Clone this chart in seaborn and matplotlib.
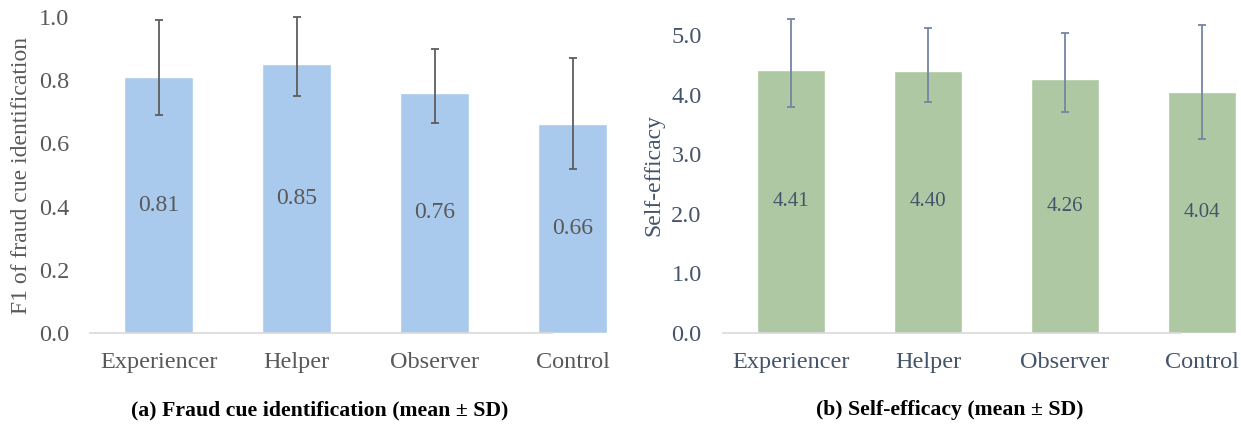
import matplotlib
matplotlib.use("Agg")
import matplotlib.pyplot as plt
import seaborn as sns
import pandas as pd
import numpy as np

# values
groups = ["Experiencer", "Helper", "Observer", "Control"]
f1_mean = [0.81, 0.85, 0.76, 0.66]
f1_upper = [0.99, 1.00, 0.90, 0.87]
f1_lower = [0.69, 0.75, 0.665, 0.52]
se_mean = [4.41, 4.40, 4.26, 4.04]
se_upper = [5.27, 5.12, 5.04, 5.17]
se_lower = [3.79, 3.88, 3.71, 3.25]

sns.set_style("white")
plt.rcParams["font.family"] = ["Liberation Serif", "DejaVu Serif"]

fig = plt.figure(figsize=(12.41, 4.30), dpi=100)
ax1 = fig.add_axes([90 / 1241, 97 / 430, 517 / 1241, 316 / 430])
ax2 = fig.add_axes([722.5 / 1241, 97 / 430, 513.5 / 1241, 316 / 430])

panels = [
    (ax1, f1_mean, f1_upper, f1_lower, "#A9CAEC", "#595959", "#5E5E5E",
     "F1 of fraud cue identification", (0, 1.0), np.arange(0, 1.01, 0.2), 17),
    (ax2, se_mean, se_upper, se_lower, "#AEC8A3", "#44546A", "#7586A2",
     "Self-efficacy", (0, 5.3), np.arange(0, 5.01, 1.0), 15),
]

for ax, mean, upper, lower, bar_col, txt_col, err_col, ylab, ylim, yticks, lab_size in panels:
    df = pd.DataFrame({"group": groups, "value": mean})
    sns.barplot(data=df, x="group", y="value", color=bar_col, width=0.5,
                errorbar=None, saturation=1, ax=ax)
    yerr = [np.array(mean) - np.array(lower), np.array(upper) - np.array(mean)]
    ax.errorbar(range(len(groups)), mean, yerr=yerr, fmt="none", ecolor=err_col,
                elinewidth=1.3, capsize=3, capthick=1.3, clip_on=False, zorder=5)
    ax.bar_label(ax.containers[0], labels=[f"{v:.2f}" for v in mean],
                 label_type="center", color=txt_col, fontsize=lab_size)
    ax.set_xlim(-0.5, 3.25)
    ax.set_ylim(*ylim)
    ax.set_yticks(yticks)
    ax.set_yticklabels([f"{t:.1f}" for t in yticks])
    ax.set_xlabel("")
    ax.set_ylabel(ylab, fontsize=17, color=txt_col, labelpad=5)
    ax.tick_params(axis="both", length=0, labelsize=17.5, colors=txt_col)
    ax.tick_params(axis="y", pad=15)
    ax.tick_params(axis="x", pad=14)
    for s in ["top", "right", "left"]:
        ax.spines[s].set_visible(False)
    ax.spines["bottom"].set_color("#D9D9D9")
    ax.spines["bottom"].set_linewidth(1.2)
    ax.spines["bottom"].set_bounds(-0.5, 2.85)
    ax.set_facecolor("none")

fig.text(320 / 1241, 1 - 410 / 430, "(a) Fraud cue identification (mean ± SD)",
         ha="center", va="center", fontsize=15.7, fontweight="bold", color="black")
fig.text(950 / 1241, 1 - 410 / 430, "(b) Self-efficacy (mean ± SD)",
         ha="center", va="center", fontsize=15.7, fontweight="bold", color="black")

fig.savefig("out.png", dpi=100)
